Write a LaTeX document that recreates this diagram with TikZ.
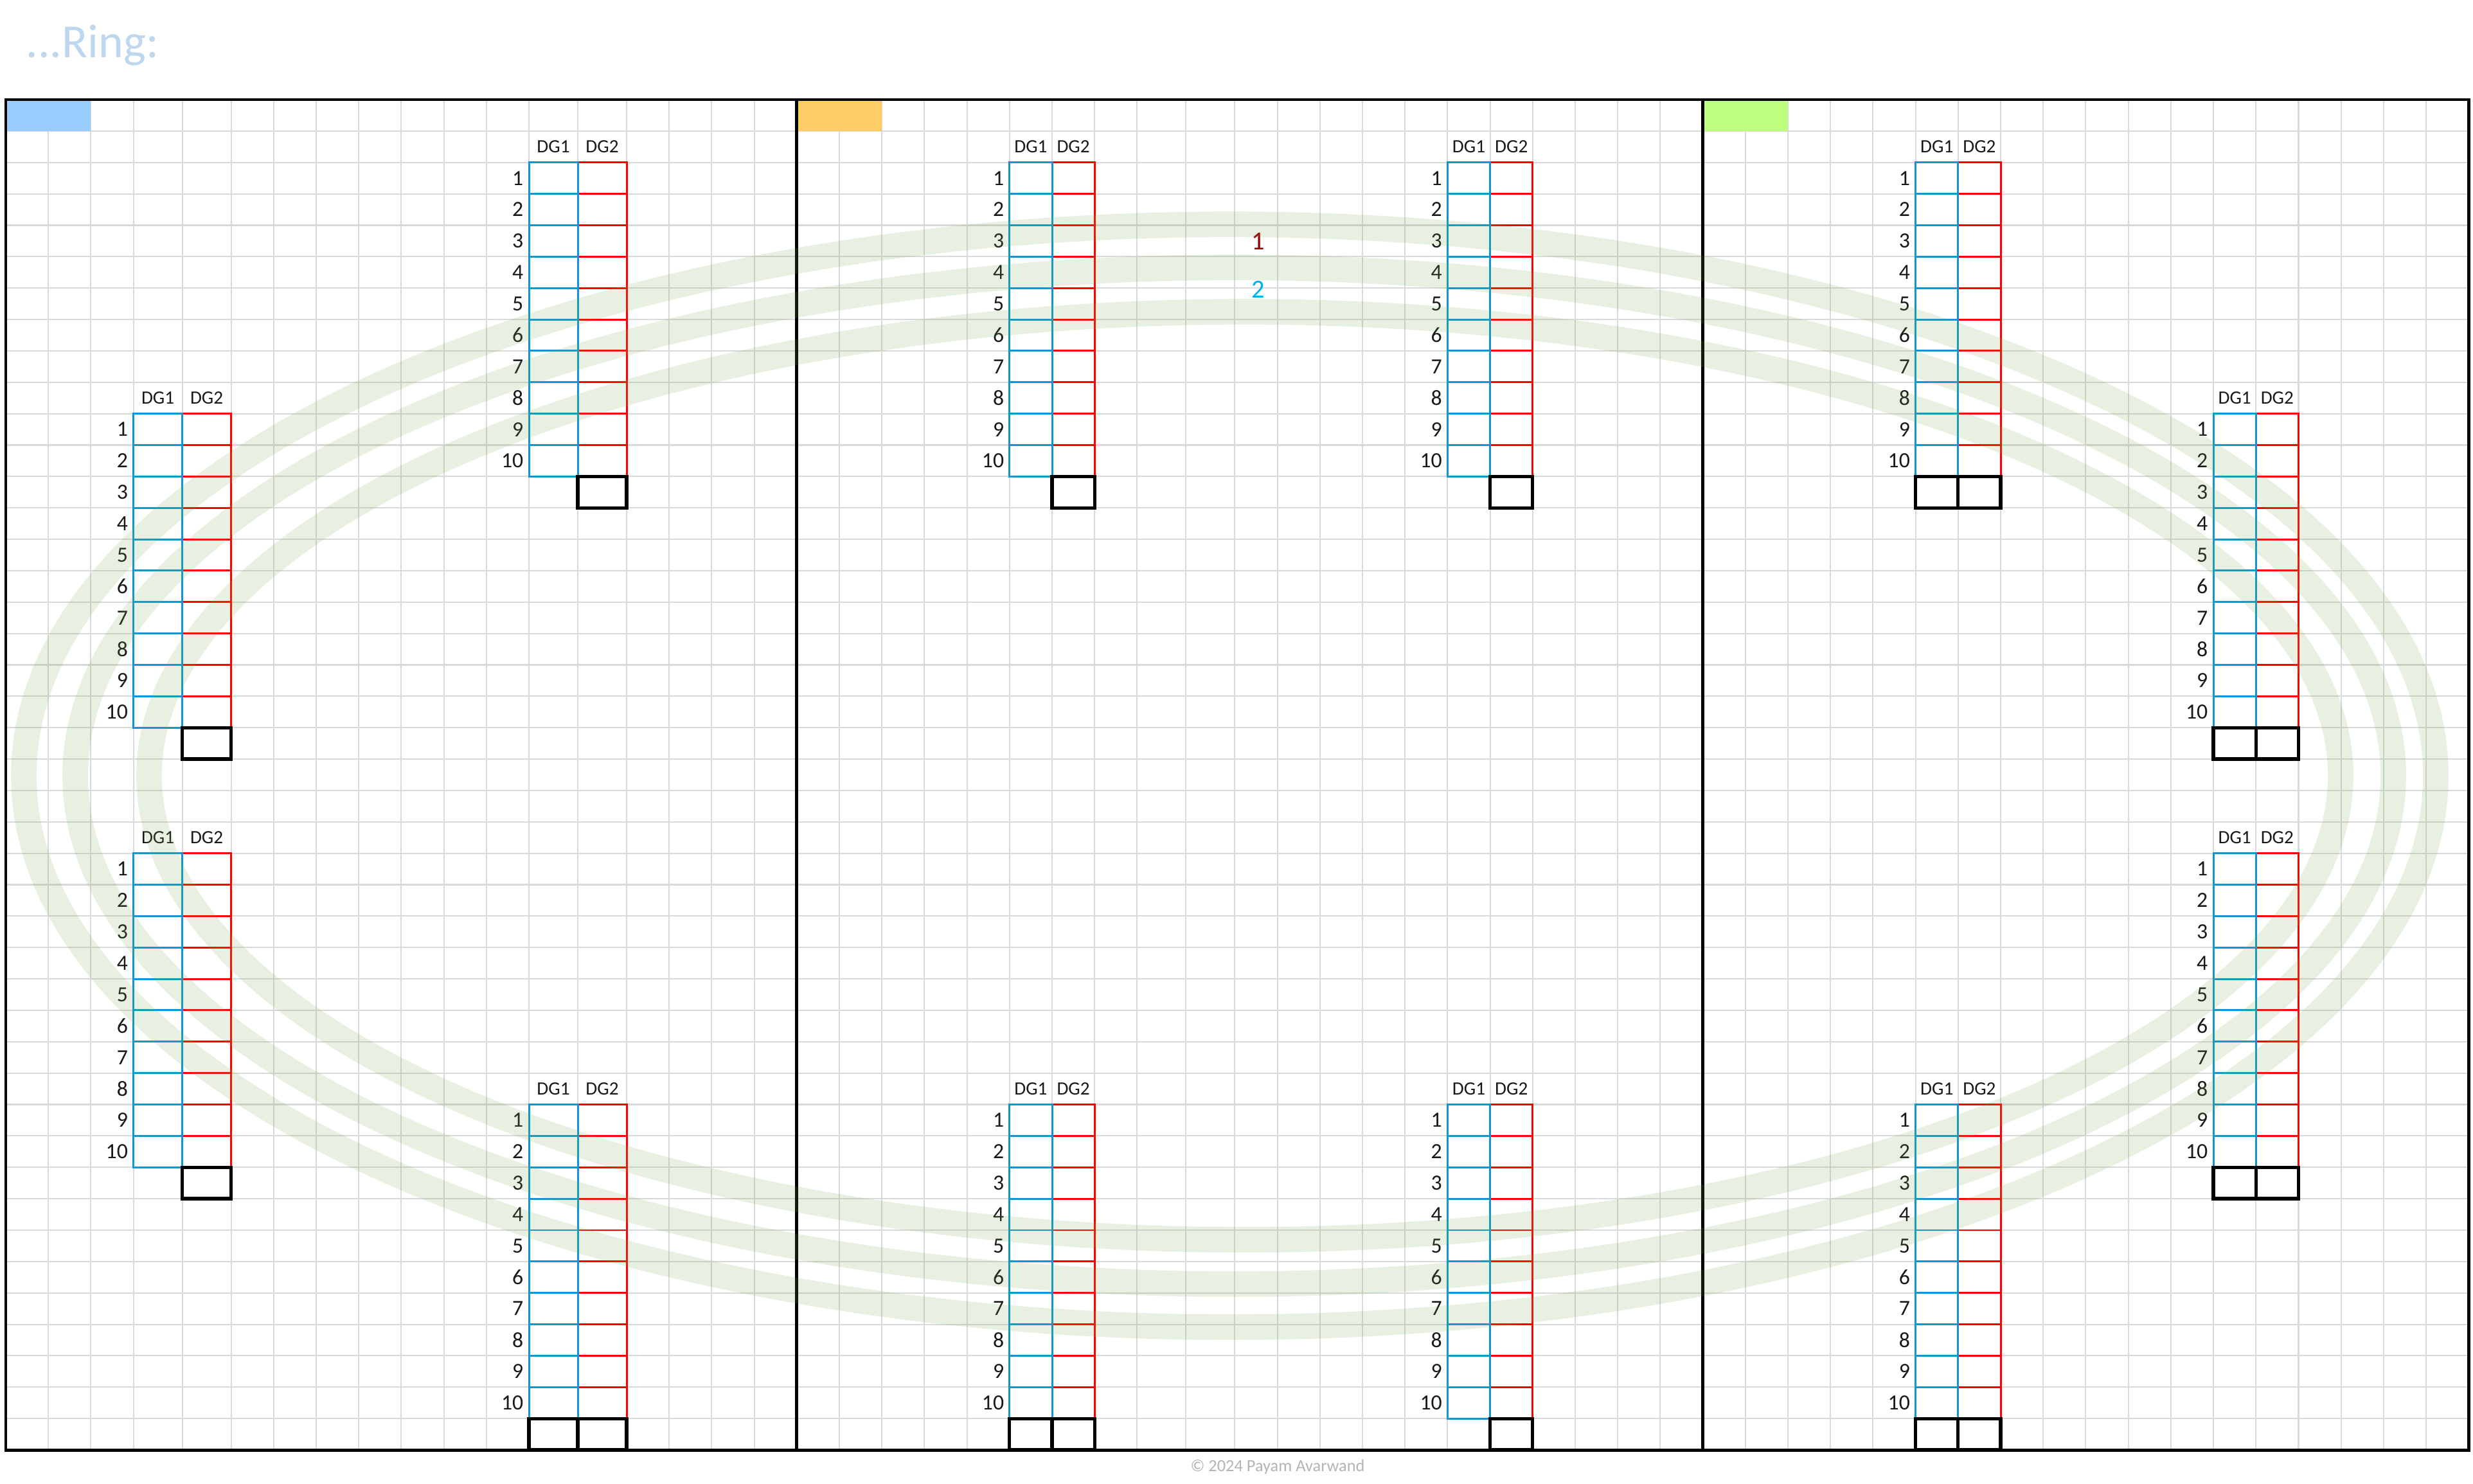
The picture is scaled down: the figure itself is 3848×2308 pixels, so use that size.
\documentclass[tikz,border=0pt]{standalone}
\usepackage{fontspec}
\setmainfont{Carlito}
\definecolor{gridc}{RGB}{217,217,217}
\definecolor{dgblue}{RGB}{16,150,210}
\definecolor{dgred}{RGB}{255,0,0}
\definecolor{titlec}{RGB}{189,215,238}
\definecolor{ringc}{RGB}{112,173,71}
\definecolor{tagblue}{RGB}{153,204,255}
\definecolor{tagorange}{RGB}{255,204,102}
\definecolor{taggreen}{RGB}{191,255,127}
\definecolor{onec}{RGB}{153,0,0}
\definecolor{twoc}{RGB}{0,176,240}
\definecolor{footc}{RGB}{180,180,180}
\tikzset{
  gridl/.style={draw=gridc, line width=0.6pt},
  bluel/.style={draw=dgblue, line width=0.85pt},
  redl/.style={draw=dgred, line width=0.85pt},
  boxl/.style={draw=black, line width=1.5pt},
  framel/.style={draw=black, line width=1.4pt},
  hdr/.style={font=\fontsize{8.3}{8.3}\selectfont, text=black!90, inner sep=0pt},
  num/.style={font=\fontsize{9.6}{9.6}\selectfont, text=black!90, anchor=east, inner sep=0pt},
  ring/.style={draw=ringc, draw opacity=0.16, line width=11.3pt},
}
\newcommand\dgblock[6]{%
  \pgfmathsetmacro\dgyT{155+48.86*(#5+1)}%
  \pgfmathsetmacro\dgyB{155+48.86*(#5+11)}%
  \pgfmathsetmacro\dgyX{155+48.86*(#5+12)}%
  \pgfmathsetmacro\dgyH{155+48.86*(#5+0.5)}%
  \node[hdr] (#1-h1) at ({(#2+#3)/2},\dgyH) {DG1};
  \node[hdr] (#1-h2) at ({(#3+#4)/2},\dgyH) {DG2};
  \draw[redl] (#3,\dgyT) -- (#4,\dgyT) -- (#4,\dgyB);
  \foreach \rr in {1,...,9}{
    \draw[redl] (#3,{\dgyT+48.86*\rr}) -- (#4,{\dgyT+48.86*\rr});
  }
  \draw[bluel] (#2,\dgyT) rectangle (#3,\dgyB);
  \foreach \rr in {1,...,9}{
    \draw[bluel] (#2,{\dgyT+48.86*\rr}) -- (#3,{\dgyT+48.86*\rr});
  }
  \foreach \rr in {1,...,10}{
    \node[num] (#1-n\rr) at ({#2-8},{\dgyT+48.86*(\rr-0.5)}) {\rr};
  }
  \draw[boxl] (#3,\dgyB) rectangle (#4,\dgyX);
  \ifnum#6=2 \draw[boxl] (#2,\dgyB) rectangle (#3,\dgyX);\fi
}
\begin{document}
\begin{tikzpicture}[x=0.01cm,y=-0.01cm]
\useasboundingbox (0,0) rectangle (3848,2308);
\fill[white] (0,0) rectangle (3848,2308);
% grid
\foreach \rr in {1,...,42}{
  \draw[gridl] (9,{155+48.86*\rr}) -- (3841.2,{155+48.86*\rr});
}
\foreach \xx in {75.2,141.4,207.6,283.6,359.6,425.8,492.0,558.2,624.4,690.6,756.8,823.0,899.0,975.0,1041.2,1107.4,1173.6,
  1306.0,1372.2,1438.4,1504.6,1570.8,1637.0,1703.2,1769.4,1845.4,1921.4,1987.6,2053.8,2120.0,2186.2,2252.4,2318.6,2384.8,2451.0,2517.2,2583.4,
  2715.8,2782.0,2848.2,2914.4,2980.6,3046.8,3113.0,3179.2,3245.4,3311.6,3377.8,3444.0,3510.2,3576.4,3642.6,3708.8,3775.0}{
  \draw[gridl] (\xx,155) -- (\xx,2256);
}
% tags
\fill[tagblue] (9,155) rectangle (141.4,203.9);
\fill[tagorange] (1239.8,155) rectangle (1372.2,203.9);
\fill[taggreen] (2649.6,155) rectangle (2782.0,203.9);
% blocks
\dgblock{a1}{823.0}{899.0}{975.0}{1}{1}
\dgblock{a2}{207.6}{283.6}{359.6}{9}{1}
\dgblock{a3}{207.6}{283.6}{359.6}{23}{1}
\dgblock{a4}{823.0}{899.0}{975.0}{31}{2}
\dgblock{b1}{1570.8}{1637.0}{1703.2}{1}{1}
\dgblock{b2}{2252.4}{2318.6}{2384.8}{1}{1}
\dgblock{b3}{1570.8}{1637.0}{1703.2}{31}{2}
\dgblock{b4}{2252.4}{2318.6}{2384.8}{31}{1}
\dgblock{c1}{2980.6}{3046.8}{3113.0}{1}{2}
\dgblock{c2}{3444.0}{3510.2}{3576.4}{9}{2}
\dgblock{c3}{3444.0}{3510.2}{3576.4}{23}{2}
\dgblock{c4}{2980.6}{3046.8}{3113.0}{31}{2}
% frame
\draw[framel] (9,155) rectangle (3841.2,2256);
\draw[framel] (1239.8,155) -- (1239.8,2256);
\draw[framel] (2649.6,155) -- (2649.6,2256);
% labels
\node[font=\fontsize{11.5}{11.5}\selectfont, text=onec, inner sep=0pt] (lab1) at (1958,375) {1};
\node[font=\fontsize{11.5}{11.5}\selectfont, text=twoc, inner sep=0pt] (lab2) at (1958,450) {2};
\node[font=\fontsize{21}{21}\selectfont, text=titlec, anchor=base west, inner sep=0pt] (title) at (40,89) {...Ring:};
\node[font=\fontsize{7.5}{7.5}\selectfont, text=footc, anchor=base, inner sep=0pt] (foot) at (1988,2289) {© 2024 Payam Avarwand};
% rings
\draw[ring] (1913.5,1207) ellipse [x radius=1876.5, y radius=858];
\draw[ring] (1920.5,1207) ellipse [x radius=1803.5, y radius=791];
\draw[ring] (1937,1207) ellipse [x radius=1705, y radius=722];
\end{tikzpicture}
\end{document}
